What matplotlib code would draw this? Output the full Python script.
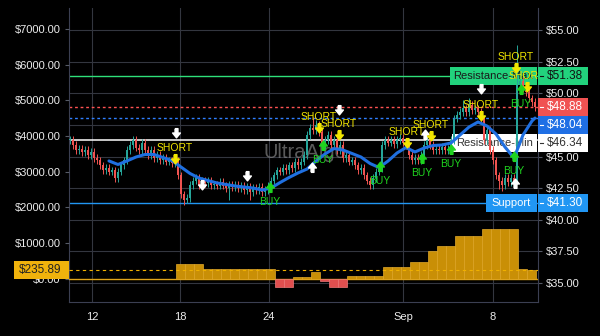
import numpy as np
import matplotlib.pyplot as plt
from matplotlib.patches import Rectangle
from matplotlib.transforms import blended_transform_factory

plt.rcParams['font.family'] = ['Liberation Sans', 'DejaVu Sans']

# -------------------------
# Data
# -------------------------

# closing prices, one per bar
closes = [
    46.3, 45.9, 45.5, 45.6, 45.35, 45.5, 45.1, 45.35, 44.9, 44.7,
    44.3, 43.9, 44.1, 43.8, 43.9, 43.3, 43.8, 44.3, 44.7, 45.5,
    45.9, 46.3, 45.7, 45.5, 46.1, 45.5, 45.1, 45.5, 44.9, 45.1,
    44.7, 44.9, 44.6, 44.7, 44.5, 44.7, 43.5, 42.0, 41.6, 41.7,
    42.75, 43.1, 43.3, 42.75, 43.1, 42.9, 43.1, 42.75, 42.8, 42.7,
    43.0, 42.7, 42.5, 42.75, 42.6, 42.75, 42.5, 42.7, 42.35, 42.6,
    42.2, 42.5, 42.35, 42.6, 42.2, 42.35, 42.7, 43.1, 43.5, 43.9,
    43.8, 44.1, 43.9, 44.3, 44.1, 44.6, 44.3, 44.6, 45.1, 46.7,
    47.25, 47.1, 47.5, 46.9, 45.9, 46.3, 46.7, 45.9, 46.3, 45.5,
    45.9, 44.9, 45.1, 44.6, 44.7, 44.3, 43.9, 44.1, 43.5, 43.1,
    42.75, 43.3, 43.8, 44.1, 45.9, 46.3, 46.1, 46.3, 46.0, 46.3,
    46.5, 46.1, 45.9, 45.1, 44.7, 44.9, 44.7, 45.1, 45.9, 46.3,
    45.9, 45.5, 45.6, 45.5, 45.75, 45.5, 45.6, 46.3, 48.0, 48.3,
    48.5, 48.8, 48.5, 49.1, 48.7, 48.8, 48.5, 48.0, 46.3, 47.1,
    45.5, 44.7, 43.5, 43.1, 42.75, 43.3, 43.0, 43.3, 43.1, 50.65,
    51.0, 50.4, 50.1, 49.6, 49.3, 48.88,
]
# long wicks on a few bars
wick_highs = {21: 46.6, 81: 48.1, 82: 47.9, 131: 49.5, 133: 49.6, 149: 53.8}
wick_lows = {15: 43.0, 38: 41.15, 53: 41.55, 60: 41.55, 100: 42.4, 143: 42.4, 144: 42.3}

# moving average, every third bar from bar 13 plus the last bar
ma_values = [
    44.65, 44.37, 44.65, 44.96, 45.16, 45.16, 44.92, 44.68, 44.17, 43.66,
    43.30, 43.10, 42.91, 42.79, 42.67, 42.59, 42.51, 42.35, 42.51, 42.94,
    43.34, 43.70, 44.01, 44.64, 45.20, 45.63, 45.51, 45.24, 44.96, 44.45,
    44.13, 44.64, 45.28, 45.71, 45.36, 45.67, 45.87, 45.91, 46.07, 46.70,
    47.33, 47.73, 47.41, 46.78, 45.75, 44.88, 46.70, 47.81, 48.04,
]

# histogram, one value per group of three bars (left axis)
hist_values = [
    0, 0, 0, 0, 0, 0, 0, 0, 0, 0, 0, 0,
    394, 394, 394,
    254, 254, 254, 254, 254, 254, 254, 254,
    -225, -225, 40, 40, 170, -80, -225, -225,
    60, 60, 60, 60, 310, 310, 310, 450, 450, 760, 900, 900,
    1180, 1180, 1180, 1380, 1380, 1380, 1380, 280, 235.89,
]

resistance_max = 51.38
last_price = 48.88
ma_last = 48.04
resistance_min = 46.34
support = 41.30
hist_last = 235.89

tick_pos = [7.33, 36.67, 66.33, 111, 141]
tick_labels = ['12', '18', '24', 'Sep', '8']

short_bars = [35.0, 83.0, 89.7, 112.3, 120.3, 137.0, 148.7, 152.3]
short_prices = [44.8, 47.25, 46.7, 46.07, 46.62, 48.2, 52.0, 50.5]
buy_bars = [66.7, 84.3, 103.3, 117.3, 127.0, 148.0, 150.3]
buy_prices = [42.59, 45.9, 44.25, 44.88, 45.6, 45.04, 50.34]
exit_down_bars = [35.3, 44.0, 59.0, 89.7, 137.0]
exit_down_prices = [46.86, 42.75, 43.46, 48.68, 50.34]
exit_up_bars = [80.7, 118.3, 148.3]
exit_up_prices = [44.2, 46.78, 42.9]

# -------------------------
# Styles
# -------------------------

BG = "#000000"
GRID = "#33363f"
TXT = "#ececec"
UP = "#26a69a"
DOWN = "#ef5350"
YELLOW = "#f2e600"
GREEN = "#1fd41f"
TAG_GREEN = "#22d27d"

down_arrow = [(-0.3, 1.0), (0.3, 1.0), (0.3, 0.1), (0.8, 0.1), (0.0, -0.9),
              (-0.8, 0.1), (-0.3, 0.1), (-0.3, 1.0)]
up_arrow = [(x, -y) for x, y in down_arrow]

fig = plt.figure(figsize=(6, 3.36), dpi=100, facecolor=BG)
ax = fig.add_axes([69 / 600, 1 - 302 / 336, 469 / 600, 294 / 336])
ax.set_facecolor(BG)
ax2 = ax.twinx()

ax.set_xlim(-0.33, 156)
ax.set_ylim(33.5, 56.74)
ax2.set_ylim(-659, 7590)

# grid + axes
ax.set_yticks(np.arange(35, 55.1, 2.5))
ax.yaxis.set_major_formatter(lambda v, p: f"${v:.2f}")
ax.set_xticks(tick_pos)
ax.set_xticklabels(tick_labels)
ax.grid(True, color=GRID, lw=0.8, zorder=0)
ax.set_axisbelow(True)
ax.yaxis.tick_right()
ax.tick_params(axis='y', length=3, color="#555a66", labelsize=8, labelcolor=TXT, pad=3)
ax.tick_params(axis='x', length=0, labelsize=8, labelcolor=TXT, pad=7)

ax2.set_yticks(np.arange(0, 7001, 1000))
ax2.yaxis.set_major_formatter(lambda v, p: f"${v:.2f}")
ax2.yaxis.tick_left()
ax2.tick_params(axis='y', length=3, color="#555a66", labelsize=8, labelcolor=TXT, pad=3)

for a in (ax, ax2):
    for s in a.spines.values():
        s.set_visible(False)
for side in ("left", "right", "bottom"):
    ax.spines[side].set_visible(True)
    ax.spines[side].set_color("#3b3f52")

# watermark
ax.text(0.503, 0.51, "UltraAlgo", transform=ax.transAxes, fontsize=14.5,
        color="#8a8a8a", alpha=0.65, ha="center", va="center", zorder=1.5)

# level lines
ax.axhline(resistance_max, color="#2ee07a", lw=1, zorder=0.9)
ax.axhline(last_price, color="#ff5252", lw=1, ls=(0, (2, 2)), zorder=0.9)
ax.axhline(ma_last, color="#2f7fff", lw=1, ls=(0, (2, 2)), zorder=0.9)
ax.axhline(resistance_min, color="#ffffff", lw=1.1, zorder=0.9)
ax.axhline(support, color="#2196f3", lw=1, zorder=0.9)

# candles
c = np.array(closes)
idx = np.arange(len(c))
o = np.r_[c[0], c[:-1]]
hi = np.maximum(o, c) + 0.3
lo = np.minimum(o, c) - 0.3
for k, v in wick_highs.items():
    hi[k] = v
for k, v in wick_lows.items():
    lo[k] = v
cols = np.where(c >= o, UP, DOWN)
ax.vlines(idx, lo, hi, colors=cols, lw=0.7, zorder=3)
ax.bar(idx, np.maximum(np.abs(c - o), 0.06), bottom=np.minimum(o, c),
       width=0.7, color=cols, zorder=3.1)

# moving average
ma_bars = list(range(13, 155, 3)) + [155]
ax.plot(ma_bars, ma_values, color="#1f6fe0", lw=2.2, zorder=4, solid_capstyle="round")

# signals
ax.plot(exit_down_bars, exit_down_prices, ls="none", marker=down_arrow, ms=7,
        color="white", zorder=5)
ax.plot(exit_up_bars, exit_up_prices, ls="none", marker=up_arrow, ms=7,
        color="white", zorder=5)
ax.plot(short_bars, short_prices, ls="none", marker=down_arrow, ms=7,
        color=YELLOW, zorder=5)
ax.plot(buy_bars, buy_prices, ls="none", marker=up_arrow, ms=7,
        color=GREEN, zorder=5)
for b, p in zip(short_bars, short_prices):
    t = ax.annotate("SHORT", (b, p), xytext=(0, 8), textcoords="offset points",
                    ha="center", va="center", fontsize=7.5, color=YELLOW, zorder=6)
    t.set_clip_on(True)
for b, p in zip(buy_bars, buy_prices):
    t = ax.annotate("BUY", (b, p), xytext=(0, -10.5), textcoords="offset points",
                    ha="center", va="center", fontsize=7.5, color=GREEN, zorder=6)
    t.set_clip_on(True)

# histogram on left axis
groups = np.arange(len(hist_values)) * 3 + 1
hv = np.array(hist_values)
ax2.bar(groups, hv, width=3, color=np.where(hv >= 0, "#c98f06", "#e04f4f"),
        edgecolor=np.where(hv >= 0, "#e2a92a", "#f07a7a"), linewidth=0.5, zorder=2)
ax2.axhline(0, color="#d99a00", lw=1, zorder=1.9)
ax2.axhline(hist_last, color="#f0b000", lw=0.8, ls=(0, (3, 3)), zorder=3)

# price tags
tr = blended_transform_factory(ax.transAxes, ax.transData)
h = 18 / 12.65
tags = [(resistance_max, TAG_GREEN, "#111111"),
        (last_price, "#f05252", "white"),
        (ma_last, "#1f6fe5", "white"),
        (resistance_min, "white", "#333333"),
        (support, "#2196f3", "white")]
pos = []
prev = None
for val, face, fg in tags:
    y = val if prev is None else min(val, prev - h)
    prev = y
    pos.append(y)
    ax.add_patch(Rectangle((1.0, y - h / 2), 50 / 469, h, transform=tr, facecolor=face,
                           edgecolor="none", clip_on=False, zorder=10))
    ax.plot([1.0 + 2 / 469, 1.0 + 5 / 469], [y, y], transform=tr, color=fg, lw=0.8,
            clip_on=False, zorder=11)
    ax.text(1.0 + 9 / 469, y, f"${val:.2f}", transform=tr, fontsize=8.5, color=fg,
            ha="left", va="center", zorder=11, clip_on=False)

# level names inside the plot
names = [(pos[0], "Resistance-Max", TAG_GREEN, "#1a1a1a", 450),
         (pos[3], "Resistance-Min", "white", "#333333", 452),
         (pos[4], "Support", "#2196f3", "white", 486)]
for y, name, face, fg, x0px in names:
    x0 = (x0px - 69) / 469
    ax.add_patch(Rectangle((x0, y - h / 2), (537 - x0px) / 469, h, transform=tr,
                           facecolor=face, edgecolor="none", zorder=1))
    ax.text(x0 + (537 - x0px) / 469 / 2, y, name, transform=tr, fontsize=8,
            color=fg, ha="center", va="center", zorder=1.1)

# left tag for the histogram
tr2 = blended_transform_factory(ax2.transAxes, ax2.transData)
h2 = 18 / 35.64 * 1000
ax2.add_patch(Rectangle((-55 / 469, hist_last - h2 / 2), 55 / 469, h2, transform=tr2,
                        facecolor="#f0b20c", edgecolor="none", clip_on=False, zorder=10))
ax2.text(-8 / 469, hist_last, f"${hist_last:.2f}", transform=tr2, fontsize=8.5,
         color="#222222", ha="right", va="center", zorder=11, clip_on=False)

fig.savefig("out.png", dpi=100, facecolor=BG)
